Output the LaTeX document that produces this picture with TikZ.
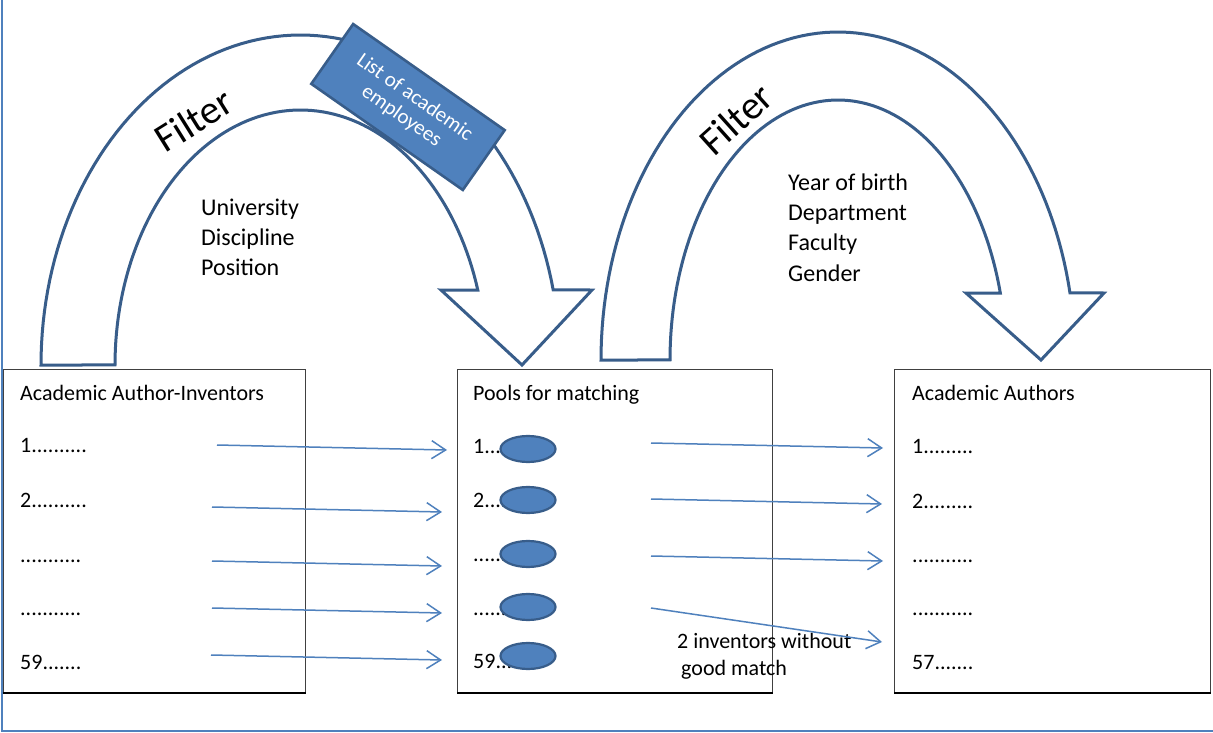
\documentclass[tikz,border=0pt]{standalone}
\usepackage{fontspec}
\setmainfont{Carlito}
\usetikzlibrary{arrows.meta,shapes.geometric}
\definecolor{archline}{RGB}{56,93,138}
\definecolor{accent}{RGB}{79,129,189}
\begin{document}
\begin{tikzpicture}[x=1pt,y=-1pt,
  archshape/.style={draw=archline, line width=3pt, fill=white, line join=miter},
  filterlbl/.style={font=\fontsize{40}{44}\selectfont, inner sep=0pt},
  crit/.style={font=\fontsize{24}{29}\selectfont, anchor=base west, inner sep=0pt},
  item/.style={font=\fontsize{22}{26}\selectfont, anchor=base west, inner sep=0pt},
  panel/.style={draw=black!75, line width=0.9pt, anchor=north west, inner sep=0pt},
  pool/.style={ellipse, draw=archline, line width=2.2pt, fill=accent, minimum width=55pt, minimum height=26pt, inner sep=0pt},
  flow/.style={draw=accent, line width=1.5pt, -{Straight Barb[length=14pt,width=18pt,line width=1.5pt]}},
  listbox/.style={draw=archline, line width=2.6pt, fill=accent, text=white, minimum width=185pt, minimum height=73pt, align=center, inner sep=0pt, font=\fontsize{21}{23}\selectfont}
]
\useasboundingbox (0,0) rectangle (1213,733);
\fill[white] (0,0) rectangle (1213,733);
% frame
\draw[accent, line width=1.3pt] (2,0) -- (2,731) -- (1213,731);

% left curved arrow
\draw[archshape] plot[domain=180:346.86,samples=90,variable=\t] ({300.5+259.5*cos(\t)},{365+330*sin(\t)})
  -- (592,290) -- (522,365) -- (441,290)
  -- plot[domain=342.9:180,samples=90,variable=\t] ({300.5+185.5*cos(\t)},{365+255*sin(\t)}) -- cycle;
% right curved arrow
\draw[archshape] plot[domain=180:348.2,samples=90,variable=\t] ({838+237*cos(\t)},{360+328*sin(\t)})
  -- (1104,293) -- (1041,360) -- (966,293)
  -- plot[domain=345.07:180,samples=90,variable=\t] ({838+168*cos(\t)},{360+260*sin(\t)}) -- cycle;

\node[filterlbl, rotate=32] (f1) at (194,120) {Filter};
\node[filterlbl, rotate=42] (f2) at (736,119) {Filter};

\node[listbox, rotate=-35] (list) at (408,107) {List of academic\\employees};

\node[crit] (c11) at (201,215) {University};
\node[crit] (c12) at (201,245) {Discipline};
\node[crit] (c13) at (201,275) {Position};

\node[crit] (c21) at (788,190) {Year of birth};
\node[crit] (c22) at (788,220) {Department};
\node[crit] (c23) at (788,250) {Faculty};
\node[crit] (c24) at (788,281) {Gender};

% panels
\node[panel, minimum width=302pt, minimum height=323pt] (box1) at (3,369) {};
\node[panel, minimum width=315pt, minimum height=323pt] (box2) at (457,369) {};
\node[panel, minimum width=316pt, minimum height=323pt] (box3) at (894,369) {};
\foreach \b in {box1,box2,box3}{\draw[black, line width=2.6pt] (\b.south west) -- (\b.south east);}

% box 1 texts
\node[item] (h1) at (20,400) {Academic Author-Inventors};
\node[item] (l11) at (20,452) {1..........};
\node[item] (l12) at (20,507) {2..........};
\node[item] (l13) at (20,562) {...........};
\node[item] (l14) at (20,615) {...........};
\node[item] (l15) at (20,669) {59.......};

% box 2 texts
\node[item] (h2) at (473,400) {Pools for matching};
\node[item] (l21) at (473,453) {1....};
\node[item] (l22) at (473,507) {2....};
\node[item] (l23) at (473,561) {.......};
\node[item] (l24) at (473,615) {.......};
\node[item] (l25) at (473,668) {59.....};
\node[pool] (p1) at (528,449) {};
\node[pool] (p2) at (528,500) {};
\node[pool] (p3) at (528,554) {};
\node[pool] (p4) at (528,607) {};
\node[pool] (p5) at (528,656) {};

% box 3 texts
\node[item] (h3) at (912,400) {Academic Authors};
\node[item] (l31) at (912,453) {1.........};
\node[item] (l32) at (912,508) {2.........};
\node[item] (l33) at (912,562) {...........};
\node[item] (l34) at (912,615) {...........};
\node[item] (l35) at (912,669) {57.......};

\node[item] (miss1) at (677,648) {2 inventors without};
\node[item] (miss2) at (681,675) {good match};

% connectors
\coordinate (s1) at (217,445); \coordinate (e1) at (447,450);
\coordinate (s2) at (212,507); \coordinate (e2) at (442,512);
\coordinate (s3) at (212,561); \coordinate (e3) at (442,566);
\coordinate (s4) at (212,608); \coordinate (e4) at (442,613);
\coordinate (s5) at (211,655); \coordinate (e5) at (442,660);
\coordinate (t1) at (651,443); \coordinate (u1) at (883,448);
\coordinate (t2) at (651,499); \coordinate (u2) at (882,504);
\coordinate (t3) at (651,556); \coordinate (u3) at (883,561);
\coordinate (t4) at (651,608); \coordinate (u4) at (882,642);
\foreach \a/\b in {s1/e1,s2/e2,s3/e3,s4/e4,s5/e5,t1/u1,t2/u2,t3/u3,t4/u4}{\draw[flow] (\a) -- (\b);}
\end{tikzpicture}
\end{document}
